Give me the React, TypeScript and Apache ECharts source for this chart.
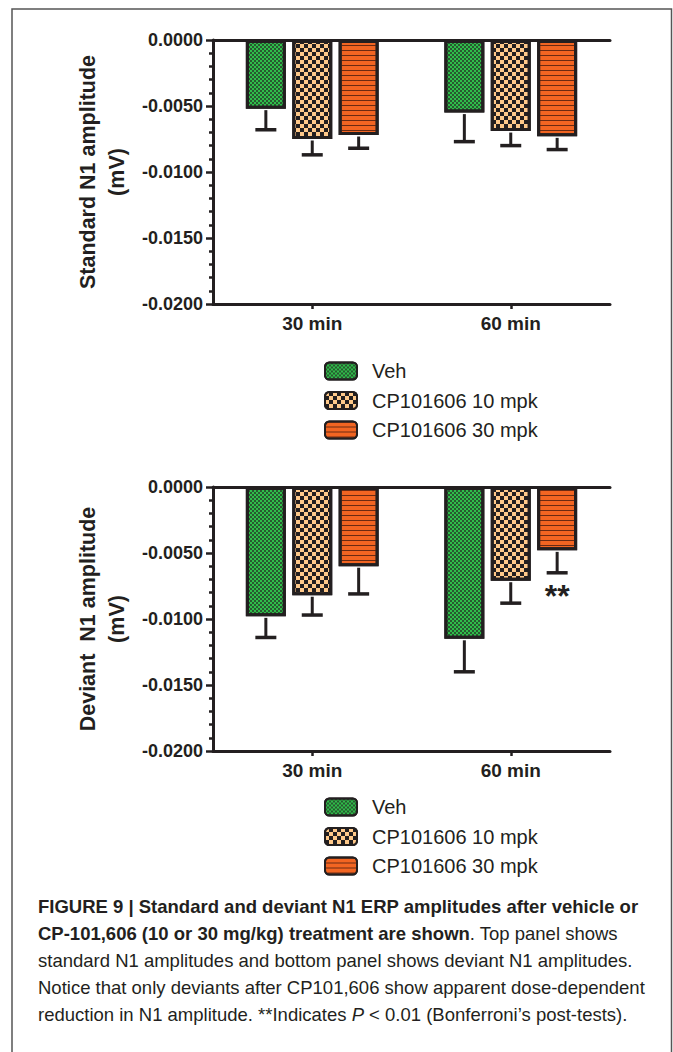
import React, { useEffect, useRef } from "react";
import * as echarts from "echarts";

// ---------- data ----------
const categories = ["30 min", "60 min"];
const seriesNames = ["Veh", "CP101606 10 mpk", "CP101606 30 mpk"];
const yMin = -0.02;
const yMax = 0;
const yInterval = 0.005;

// standard N1 amplitude (mV): mean and lower end of error bar, per series, per category
const standardVeh = [-0.0052, -0.0055];
const standard10 = [-0.0075, -0.0069];
const standard30 = [-0.0072, -0.0073];
const standardVehErr = [-0.0068, -0.0077];
const standard10Err = [-0.0087, -0.0080];
const standard30Err = [-0.0082, -0.0083];

// deviant N1 amplitude (mV)
const deviantVeh = [-0.0098, -0.0115];
const deviant10 = [-0.0082, -0.0071];
const deviant30 = [-0.006, -0.0048];
const deviantVehErr = [-0.0114, -0.014];
const deviant10Err = [-0.0097, -0.0088];
const deviant30Err = [-0.0081, -0.0065];
const deviantSig30 = ["", "**"];

const standardMeans = [standardVeh, standard10, standard30];
const standardErrs = [standardVehErr, standard10Err, standard30Err];
const deviantMeans = [deviantVeh, deviant10, deviant30];
const deviantErrs = [deviantVehErr, deviant10Err, deviant30Err];
const deviantSig = [["", ""], ["", ""], deviantSig30];

// ---------- styles ----------
const INK = "#231f20";
const BAR_W = 40;
const BAR_GAP = 0.16;
const fills = ["#2fbd4a", "#ffc98a", "#f26522"];
const decals: any[] = [
  {
    symbol: "rect",
    symbolSize: 0.85,
    color: INK,
    dashArrayX: [[2, 2], [0, 2, 2, 0]],
    dashArrayY: [2, 0],
    rotation: 0,
  },
  {
    symbol: "rect",
    symbolSize: 1,
    color: INK,
    dashArrayX: [[4, 4], [0, 4, 4, 0]],
    dashArrayY: [4, 0],
    rotation: 0,
  },
  {
    symbol: "rect",
    symbolSize: 1,
    color: "#6b2a12",
    dashArrayX: [1, 0],
    dashArrayY: [1, 4],
    rotation: 0,
  },
];

function buildPanel(gridIndex: number, means: number[][], errs: number[][], sig: string[][] | null) {
  const series: any[] = [];
  means.forEach((vals, i) => {
    series.push({
      type: "bar",
      name: seriesNames[i],
      xAxisIndex: gridIndex * 2,
      yAxisIndex: gridIndex,
      data: vals,
      barWidth: BAR_W,
      barGap: `${BAR_GAP * 100}%`,
      itemStyle: {
        color: fills[i],
        borderColor: INK,
        borderWidth: 3,
        decal: decals[i],
      },
      z: 2,
    });
  });
  means.forEach((vals, i) => {
    const offset = (i - 1) * BAR_W * (1 + BAR_GAP);
    series.push({
      type: "custom",
      name: `err-${gridIndex}-${i}`,
      xAxisIndex: gridIndex * 2,
      yAxisIndex: gridIndex,
      z: 3,
      data: vals.map((m, c) => [c, errs[i][c], m]),
      renderItem: (params: any, api: any) => {
        const c = api.value(0);
        const low = api.value(1);
        const mean = api.value(2);
        const pM = api.coord([c, mean]);
        const pL = api.coord([c, low]);
        const x = pM[0] + offset;
        const children: any[] = [
          {
            type: "line",
            shape: { x1: x, y1: pM[1] + 1.5, x2: x, y2: pL[1] },
            style: { stroke: INK, lineWidth: 3 },
          },
          {
            type: "line",
            shape: { x1: x - 10.5, y1: pL[1], x2: x + 10.5, y2: pL[1] },
            style: { stroke: INK, lineWidth: 3.5 },
          },
        ];
        const s = sig ? sig[i][params.dataIndex] : "";
        if (s) {
          children.push({
            type: "text",
            style: {
              text: s,
              x: x,
              y: pL[1] + 7,
              align: "center",
              verticalAlign: "top",
              fontSize: 32,
              fontWeight: "bold",
              fontFamily: "Liberation Sans, Arial, sans-serif",
              fill: INK,
            },
          });
        }
        return { type: "group", children };
      },
    });
  });
  return series;
}

export default function App() {
  const ref = useRef<HTMLDivElement>(null);
  useEffect(() => {
    if (!ref.current) return;
    const chart = echarts.init(ref.current, null, { renderer: "svg" });
    const font = "Liberation Sans, Arial, Helvetica, sans-serif";
    const grids = [
      { left: 213, top: 40, width: 397, height: 264 },
      { left: 213, top: 487, width: 397, height: 264 },
    ];
    const xAxes: any[] = [];
    const yAxes: any[] = [];
    grids.forEach((_, g) => {
      xAxes.push({
        type: "category",
        gridIndex: g,
        data: categories,
        position: "bottom",
        axisLine: { onZero: false, lineStyle: { color: INK, width: 3 } },
        axisTick: { show: true, alignWithLabel: true, length: 5, lineStyle: { color: INK, width: 2.5 } },
        axisLabel: { color: INK, fontSize: 19, fontWeight: "bold", fontFamily: font, margin: 10 },
        splitLine: { show: false },
      });
      xAxes.push({
        type: "category",
        gridIndex: g,
        data: categories,
        position: "top",
        axisLine: { onZero: false, lineStyle: { color: INK, width: 3 } },
        axisTick: { show: false },
        axisLabel: { show: false },
        splitLine: { show: false },
      });
      yAxes.push({
        type: "value",
        gridIndex: g,
        min: yMin,
        max: yMax,
        interval: yInterval,
        axisLine: { show: true, lineStyle: { color: INK, width: 3 } },
        axisTick: { show: true, length: 7, lineStyle: { color: INK, width: 2.5 } },
        minorTick: { show: true, splitNumber: 5, length: 4, lineStyle: { color: INK, width: 2.5 } },
        axisLabel: {
          color: INK,
          fontSize: 18,
          fontWeight: "bold",
          fontFamily: font,
          margin: 10,
          formatter: (v: number) => (Math.abs(v) < 1e-12 ? "0.0000" : v.toFixed(4)),
        },
        splitLine: { show: false },
      });
    });

    const legendCommon = {
      orient: "vertical",
      data: seriesNames,
      itemWidth: 32,
      itemHeight: 17,
      itemGap: 9.5,
      padding: 0,
      selectedMode: false,
      textStyle: { color: INK, fontSize: 20, fontFamily: font, padding: [0, 0, 0, 10] },
    };

    const caption =
      "{b|FIGURE 9 | Standard and deviant N1 ERP amplitudes after vehicle or}\n" +
      "{b|CP-101,606 (10 or 30 mg/kg) treatment are shown}{n|. Top panel shows}\n" +
      "{n|standard N1 amplitudes and bottom panel shows deviant N1 amplitudes.}\n" +
      "{n|Notice that only deviants after CP101,606 show apparent dose-dependent}\n" +
      "{n|reduction in N1 amplitude. **Indicates }{i|P}{n| < 0.01 (Bonferroni\u2019s post-tests).}";

    const CAP = 18.5;
    const titleStyle = (text: string) => ({
      text,
      align: "center",
      verticalAlign: "middle",
      fontSize: 21.5,
      fontWeight: "bold",
      fontFamily: font,
      fill: INK,
    });

    const option: any = {
      animation: false,
      backgroundColor: "#ffffff",
      grid: grids,
      xAxis: xAxes,
      yAxis: yAxes,
      legend: [
        { ...legendCommon, left: 324, top: 361 },
        { ...legendCommon, left: 324, top: 797 },
      ],
      series: [
        ...buildPanel(0, standardMeans, standardErrs, null),
        ...buildPanel(1, deviantMeans, deviantErrs, deviantSig),
      ],
      graphic: [
        {
          type: "polyline",
          shape: { points: [[12, 1052], [12, 9], [671.5, 9], [671.5, 1052]] },
          style: { stroke: "#555555", lineWidth: 1.5, fill: null },
          silent: true,
        },
        { type: "text", x: 88, y: 172, rotation: Math.PI / 2, style: titleStyle("Standard N1 amplitude") },
        { type: "text", x: 117, y: 172, rotation: Math.PI / 2, style: titleStyle("(mV)") },
        { type: "text", x: 88, y: 619, rotation: Math.PI / 2, style: titleStyle("Deviant  N1 amplitude") },
        { type: "text", x: 117, y: 619, rotation: Math.PI / 2, style: titleStyle("(mV)") },
        {
          type: "text",
          x: 38,
          y: 893,
          style: {
            text: caption,
            fontSize: CAP,
            lineHeight: 27,
            fontFamily: font,
            fill: INK,
            rich: {
              b: { fontSize: CAP, fontWeight: "bold", fontFamily: font, fill: INK, lineHeight: 27 },
              n: { fontSize: CAP, fontWeight: "normal", fontFamily: font, fill: INK, lineHeight: 27 },
              i: { fontSize: CAP, fontStyle: "italic", fontFamily: font, fill: INK, lineHeight: 27 },
            },
          },
        },
      ],
    };
    chart.setOption(option);
    return () => chart.dispose();
  }, []);
  return (
    <div
      ref={ref}
      style={{ position: "absolute", left: 0, top: 0, width: 673, height: 1052, background: "#fff" }}
    />
  );
}
